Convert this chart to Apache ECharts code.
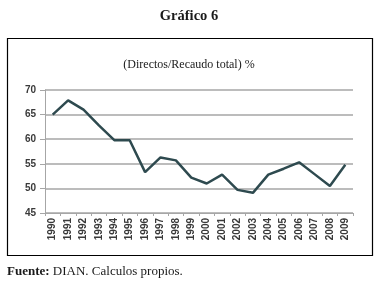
<!DOCTYPE html>
<html>
<head>
<meta charset="utf-8">
<script src="https://cdn.jsdelivr.net/npm/echarts@6/dist/echarts.min.js"></script>
<style>
  html, body { margin: 0; padding: 0; background: #fff; }
  #chart { width: 378px; height: 284px; }
</style>
</head>
<body>
<div id="chart"></div>
<script>
const years = ['1990', '1991', '1992', '1993', '1994', '1995', '1996', '1997', '1998', '1999',
  '2000', '2001', '2002', '2003', '2004', '2005', '2006', '2007', '2008', '2009']
const ratio = [65, 67.9, 66, 62.8, 59.8, 59.8, 53.3, 56.3, 55.7, 52.2,
  51, 52.8, 49.7, 49.1, 52.8, 54, 55.3, 52.9, 50.5, 54.8]

const chart = echarts.init(document.getElementById('chart'))

const option = {
  animation: false,
  title: [
    {
      text: 'Gráfico 6',
      left: 'center',
      top: 4,
      textStyle: { fontFamily: 'Liberation Serif', fontSize: 14.5, fontWeight: 'bold', color: '#1a1a1a' }
    },
    {
      text: '(Directos/Recaudo total) %',
      left: 'center',
      top: 54,
      textStyle: { fontFamily: 'Liberation Serif', fontSize: 12, fontWeight: 'normal', color: '#1a1a1a' }
    }
  ],
  graphic: [
    {
      type: 'rect',
      shape: { x: 7.5, y: 38.5, width: 365, height: 217 },
      style: { fill: 'none', stroke: '#000', lineWidth: 1.2 },
      silent: true
    },
    {
      type: 'text',
      left: 7,
      top: 265,
      style: {
        text: '{b|Fuente:} DIAN. Calculos propios.',
        fontFamily: 'Liberation Serif',
        fontSize: 13,
        fill: '#1a1a1a',
        rich: { b: { fontFamily: 'Liberation Serif', fontSize: 13, fontWeight: 'bold', fill: '#1a1a1a' } }
      }
    }
  ],
  grid: { left: 45, right: 25, top: 90, bottom: 71 },
  xAxis: {
    type: 'category',
    data: years,
    boundaryGap: true,
    axisLine: { lineStyle: { color: '#a6a6a6', width: 1 } },
    axisTick: { show: true, length: 3, lineStyle: { color: '#a6a6a6' } },
    axisLabel: {
      rotate: 90,
      interval: 0,
      margin: 5,
      fontFamily: 'Liberation Sans',
      fontSize: 10,
      fontWeight: 'bold',
      color: '#3a3a3a'
    }
  },
  yAxis: {
    type: 'value',
    min: 45,
    max: 70,
    interval: 5,
    axisLine: { show: true, lineStyle: { color: '#a6a6a6', width: 1 } },
    axisTick: { show: true, length: 5, lineStyle: { color: '#a6a6a6' } },
    axisLabel: {
      margin: 9,
      fontFamily: 'Liberation Sans',
      fontSize: 10,
      fontWeight: 'bold',
      color: '#3a3a3a'
    },
    splitLine: { lineStyle: { color: '#a6a6a6', width: 1.5 } }
  },
  series: [
    {
      type: 'line',
      data: ratio,
      symbol: 'none',
      lineStyle: { color: '#2e4a4f', width: 2.5 }
    }
  ]
}

chart.setOption(option)
</script>
</body>
</html>
